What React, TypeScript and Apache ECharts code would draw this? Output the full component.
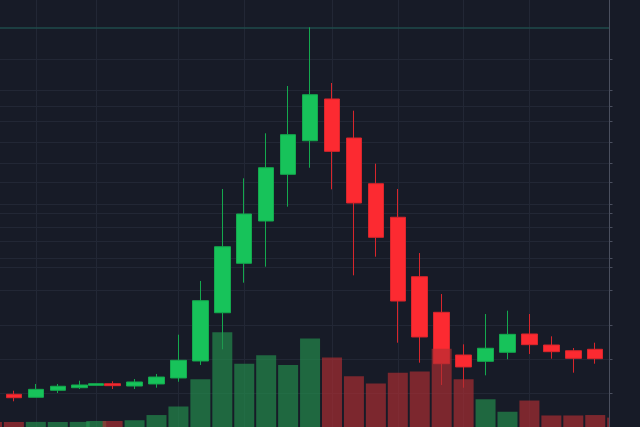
import React, { useEffect, useRef } from "react";
import * as echarts from "echarts";

// session time of each candle (hours); candle 4 is a short session
const times = [-2, 0, 2, 4, 6, 7.5, 9, 11, 13, 15, 17, 19, 21, 23, 25, 27, 29, 31, 33, 35, 37, 39, 41, 43, 45, 47, 49, 51, 53, 55];
const opens = [3.81, 3.83, 3.48, 4.3, 4.6, 4.88, 5.07, 4.8, 5.04, 5.74, 7.73, 13.38, 19.17, 24.12, 29.59, 33.52, 38.41, 33.84, 28.49, 24.56, 17.6, 13.43, 8.43, 7.69, 8.75, 10.89, 9.6, 8.93, 9.1, 9.0];
const closes = [3.51, 3.43, 4.41, 4.77, 4.92, 5.07, 4.84, 5.27, 5.85, 7.81, 14.79, 21.11, 24.94, 30.36, 34.23, 38.91, 32.28, 26.23, 22.21, 14.75, 10.54, 7.41, 7.03, 9.22, 10.85, 9.64, 8.82, 8.04, 8.0, 8.4];
const lows = [3.04, 3.01, 3.48, 3.98, 4.45, 4.86, 4.45, 4.45, 4.6, 5.3, 7.26, 9.1, 16.9, 18.77, 25.8, 30.36, 27.83, 17.76, 19.94, 9.87, 7.53, 4.92, 4.6, 6.05, 7.93, 8.55, 8.0, 6.36, 7.41, 8.0];
const highs = [4.22, 4.25, 5.04, 5.04, 5.42, 5.09, 5.35, 5.62, 6.21, 10.81, 17.1, 27.87, 29.12, 34.39, 39.93, 46.8, 40.28, 37.04, 30.83, 27.87, 20.37, 15.57, 9.68, 13.23, 13.62, 13.23, 10.62, 9.25, 9.87, 9.5];
const volumes = [12, 12, 12, 12, 12, 14, 14, 16, 28, 48, 112, 222, 148, 168, 145, 207, 163, 119, 102, 127, 130, 183, 112, 65, 36, 62, 27, 27, 28, 22];

// price levels of the horizontal guide lines; candles that carry a vertical guide line
const priceLevels = [43.09, 39.46, 37.59, 35.83, 33.31, 30.85, 28.65, 26.08, 25.06, 23.42, 21.74, 19.73, 18.68, 16.02, 11.92, 7.94, 3.92];
const guideCandles = [2, 5, 9, 12, 16, 19, 22, 25];

const X_MIN = -3;
const X_MAX = 54.3;

const BG = "#171b27";
const GRID = "#222735";
const AXIS = "#4a4f5e";
const UP = "#17c35a";
const DOWN = "#fc2a31";

export default function App() {
  const ref = useRef<HTMLDivElement>(null);

  useEffect(() => {
    document.body.style.margin = "0";
    document.body.style.background = BG;
    if (!ref.current) return;
    const chart = echarts.init(ref.current, null, { renderer: "svg" });

    // candles whose centre lies beyond the price scale are hidden behind it
    const candleData = times
      .map((t, i) => [t, opens[i], closes[i], lows[i], highs[i]])
      .filter((d) => d[0] < X_MAX);
    const volData = times.map((t, i) => ({
      value: [t, volumes[i]],
      itemStyle: {
        color: closes[i] >= opens[i] ? "rgba(36,146,78,0.65)" : "rgba(178,46,50,0.65)",
      },
    }));
    const maxHigh = Math.max(...highs);

    chart.setOption({
      animation: false,
      backgroundColor: BG,
      grid: {
        left: -19,
        right: 30.5,
        top: 0,
        bottom: 0,
        containLabel: false,
        outerBoundsMode: "none",
      },
      xAxis: {
        type: "value",
        min: X_MIN,
        max: X_MAX,
        axisLine: { show: false },
        axisTick: { show: false },
        axisLabel: { show: false },
        splitLine: { show: false },
      },
      yAxis: [
        {
          type: "value",
          position: "right",
          min: 0,
          max: 50,
          z: 60,
          axisLine: { show: true, onZero: false, lineStyle: { color: AXIS, width: 1 } },
          axisTick: {
            show: true,
            inside: false,
            length: 3,
            customValues: priceLevels,
            lineStyle: { color: AXIS, width: 1 },
          },
          axisLabel: { show: false },
          splitLine: { show: false },
        },
        {
          type: "value",
          position: "left",
          min: 0,
          max: 1000,
          axisLine: { show: false, onZero: false },
          axisTick: { show: false },
          axisLabel: { show: false },
          splitLine: { show: false },
        },
      ],
      series: [
        {
          type: "line",
          data: [],
          z: 1,
          silent: true,
          markLine: {
            z: 1,
            silent: true,
            symbol: ["none", "none"],
            label: { show: false },
            lineStyle: { color: GRID, width: 1, type: "solid" },
            data: [
              ...priceLevels.map((p) => ({ yAxis: p })),
              ...guideCandles.map((i) => ({ xAxis: times[i] })),
              { yAxis: maxHigh, lineStyle: { color: "#1f4b4b", width: 1.5, type: "solid" } },
            ],
          },
        },
        {
          type: "candlestick",
          data: candleData,
          z: 2,
          clip: true,
          barWidth: 16,
          itemStyle: {
            color: UP,
            color0: DOWN,
            borderColor: "#14a94e",
            borderColor0: "#d8262c",
            borderWidth: 1,
          },
        },
        {
          type: "bar",
          data: volData,
          yAxisIndex: 1,
          z: 3,
          clip: true,
          barWidth: 20,
        },
      ],
      graphic: [
        {
          type: "rect",
          z: 50,
          silent: true,
          shape: { x: 610, y: 0, width: 30, height: 427 },
          style: { fill: BG },
        },
      ],
    });

    return () => chart.dispose();
  }, []);

  return <div ref={ref} style={{ width: 640, height: 427 }} />;
}
